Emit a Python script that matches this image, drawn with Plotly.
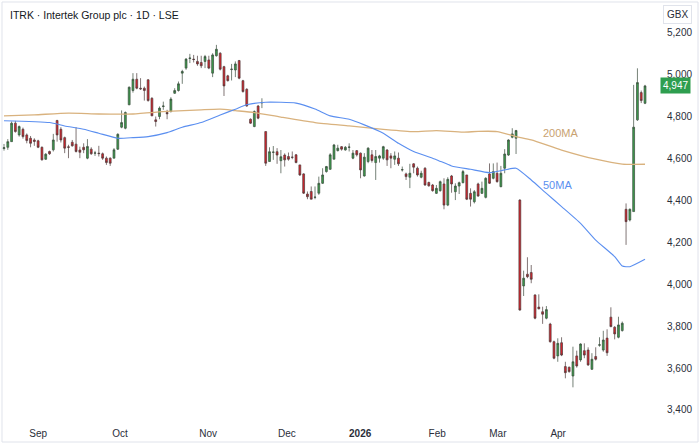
import plotly.graph_objects as go

# ---------------- data ----------------
opens = [4648,4654,4681,4769,4713,4740,4713,4697,4689,4685,4654,4597,4634,4642,4782,4740,4700,4656,4678,4669,
         4641,4654,4602,4645,4626,4626,4623,4602,4602,4602,4645,4750,4745,4857,4925,4979,4936,4936,4976,4888,
         4785,4801,4849,4820,4825,4912,4925,5008,5032,5078,5075,5064,5059,5064,5071,5008,5091,5103,5039,4995,
         5025,5023,5068,4972,4931,4788,4753,4851,4866,4729,4586,4630,4633,4590,4617,4610,4607,4618,4570,4527,
         4431,4443,4415,4435,4482,4538,4549,4597,4638,4657,4641,4654,4602,4638,4626,4517,4586,4618,4581,4602,
         4602,4641,4613,4597,4602,4546,4527,4511,4575,4554,4511,4554,4486,4474,4434,4447,4479,4378,4517,4442,
         4469,4485,4522,4434,4394,4479,4434,4415,4527,4506,4530,4466,4554,4617,4702,4697,4402,3992,4048,4056,
         3949,3891,3869,3838,3810,3726,3658,3721,3607,3604,3562,3658,3639,3683,3686,3594,3655,3709,3686,3743,
         3843,3795,3747,3779,4358,4307,4347,4785,4915,4864]
highs = [4670,4693,4777,4780,4758,4748,4720,4708,4697,4690,4658,4626,4638,4718,4785,4750,4705,4666,4689,4750,
         4657,4673,4693,4654,4637,4661,4629,4610,4606,4650,4721,4830,4825,4944,5008,5008,4984,4944,4979,4893,
         4801,4849,4872,4833,4893,4936,4968,5024,5080,5100,5095,5091,5091,5095,5091,5103,5143,5108,5043,5000,
         5052,5064,5071,4976,4936,4792,4830,4856,4888,4729,4654,4660,4650,4641,4625,4629,4634,4622,4570,4530,
         4443,4467,4467,4514,4554,4565,4626,4670,4666,4660,4660,4673,4641,4641,4629,4626,4654,4641,4641,4618,
         4661,4645,4626,4634,4629,4562,4533,4575,4578,4562,4542,4559,4490,4479,4474,4495,4506,4511,4522,4482,
         4490,4546,4522,4458,4450,4485,4490,4511,4577,4577,4581,4565,4645,4692,4745,4737,4406,4065,4129,4092,
         3952,3952,3893,3896,3816,3731,3742,3747,3630,3607,3702,3683,3718,3718,3699,3671,3699,3747,3778,3785,
         3890,3800,3845,3822,4386,4362,4952,5031,4925,4952]
lows = [4638,4642,4681,4724,4705,4695,4673,4654,4661,4650,4591,4594,4618,4634,4681,4677,4626,4602,4657,4629,
        4602,4626,4597,4618,4613,4610,4594,4570,4565,4602,4641,4745,4740,4855,4915,4931,4928,4877,4872,4804,
        4753,4788,4833,4788,4820,4909,4920,4957,5024,5056,5059,5043,5032,5032,5027,4989,5087,5021,4899,4968,
        4973,4989,4979,4915,4848,4766,4750,4788,4841,4565,4586,4594,4575,4530,4562,4590,4597,4578,4517,4431,
        4406,4406,4406,4427,4479,4533,4546,4597,4634,4638,4638,4634,4597,4610,4506,4514,4578,4581,4498,4581,
        4594,4565,4554,4570,4565,4538,4498,4459,4530,4514,4506,4470,4466,4442,4431,4442,4358,4373,4437,4402,
        4431,4482,4402,4371,4386,4418,4431,4410,4479,4501,4485,4463,4530,4613,4697,4622,3874,3944,4029,4005,
        3833,3880,3811,3833,3721,3642,3630,3657,3551,3578,3508,3602,3630,3647,3610,3591,3636,3702,3678,3658,
        3795,3737,3742,3774,4188,4300,4347,4780,4865,4860]
closes = [4652,4681,4769,4729,4753,4705,4686,4673,4682,4654,4594,4621,4623,4689,4713,4689,4650,4654,4661,4634,
          4630,4642,4658,4623,4627,4624,4602,4581,4578,4642,4716,4772,4820,4941,4979,4936,4933,4925,4877,4804,
          4777,4841,4851,4814,4884,4925,4957,5016,5075,5080,5073,5052,5043,5087,5032,5095,5122,5027,4947,4972,
          5027,5052,4984,4920,4851,4769,4825,4793,4868,4578,4633,4631,4617,4609,4594,4597,4606,4581,4522,4435,
          4418,4406,4416,4482,4522,4562,4618,4665,4650,4645,4654,4655,4626,4618,4546,4607,4650,4591,4610,4613,
          4657,4594,4602,4613,4575,4547,4514,4530,4559,4522,4530,4474,4470,4447,4458,4490,4378,4501,4479,4469,
          4485,4538,4406,4406,4442,4421,4458,4506,4482,4538,4490,4530,4622,4689,4718,4734,3877,4029,4036,4024,
          3838,3883,3857,3879,3726,3647,3718,3662,3578,3583,3630,3610,3715,3662,3615,3642,3642,3711,3734,3673,
          3798,3763,3806,3814,4299,4358,4750,4963,4877,4947]

# moving averages read at sampled candles
ma50_idx = [0,12,16,21,25,30,34,38,43,47,52,57,61,64,69,77,82,86,91,95,
            100,104,108,114,118,123,128,132,135,139,143,147,152,156,161,163,165,169]
ma50_val = [4781,4772,4756,4740,4721,4697,4700,4705,4724,4750,4772,4808,4836,4857,4869,4865,4837,4804,4788,4761,
            4721,4673,4634,4595,4565,4549,4533,4546,4554,4498,4434,4371,4291,4211,4132,4087,4084,4119]
ma200_idx = [0,8,17,25,34,43,52,57,61,66,73,82,91,100,108,114,121,125,130,135,139,147,156,163,169]
ma200_val = [4804,4809,4817,4813,4813,4825,4833,4836,4829,4820,4798,4772,4756,4740,4729,4734,4726,4730,4729,4705,
             4689,4641,4597,4574,4573]

month_labels = ["Sep", "Oct", "Nov", "Dec", "<b>2026</b>", "Feb", "Mar", "Apr"]
month_pos = [9, 30.6, 53.8, 74.6, 93.9, 114.2, 130.2, 146.1]
price_ticks = [3400, 3600, 3800, 4000, 4200, 4400, 4600, 4800, 5000, 5200]

title_text = "ITRK · Intertek Group plc · 1D · LSE"
currency = "GBX"

# ---------------- figure ----------------
n = len(closes)
xs = list(range(n))

GREEN = "#3c9c4c"
RED = "#d8232c"
BLUE = "#5b8ff0"
TAN = "#d9b27e"
FONT = "Liberation Sans"

fig = go.Figure()
fig.add_trace(go.Candlestick(
    x=xs, open=opens, high=highs, low=lows, close=closes,
    increasing=dict(fillcolor=GREEN, line=dict(color="#3a4a3c", width=0.7)),
    decreasing=dict(fillcolor=RED, line=dict(color="#4a3a3a", width=0.7)),
    whiskerwidth=0, hoverinfo="skip", showlegend=False,
))
fig.add_trace(go.Scatter(x=ma200_idx, y=ma200_val, mode="lines",
                         line=dict(color=TAN, width=1.3, shape="spline", smoothing=0.6),
                         hoverinfo="skip", showlegend=False))
fig.add_trace(go.Scatter(x=ma50_idx, y=ma50_val, mode="lines",
                         line=dict(color=BLUE, width=1.1, shape="spline", smoothing=0.5),
                         hoverinfo="skip", showlegend=False))

fig.update_layout(
    width=700, height=444,
    margin=dict(l=1, r=40, t=8, b=24),
    paper_bgcolor="white", plot_bgcolor="white",
    font=dict(family=FONT, size=10, color="#2a2e39"),
    xaxis=dict(range=[-0.79, 172.95], rangeslider=dict(visible=False),
               showgrid=False, zeroline=False, showline=False,
               tickmode="array", tickvals=month_pos, ticktext=month_labels,
               ticks="", ticklabelstandoff=6, tickfont=dict(size=10, color="#2a2e39")),
    yaxis=dict(side="right", range=[3352, 5319], showgrid=False, zeroline=False,
               showline=False, tickmode="array", tickvals=price_ticks,
               tickformat=",", ticks="", ticklabelstandoff=6,
               tickfont=dict(size=10, color="#2a2e39")),
    hovermode=False,
)

fig.add_shape(type="rect", xref="paper", yref="paper",
              x0=0.0015, x1=1.0577, y0=-0.0534, y1=1.0146,
              line=dict(color="#e0e3eb", width=1), fillcolor="rgba(0,0,0,0)", layer="below")

fig.add_annotation(xref="paper", yref="paper", x=0, y=1, xanchor="left", yanchor="top",
                   xshift=7, yshift=1, text=title_text, showarrow=False,
                   font=dict(family=FONT, size=10.5, color="#131722"))
fig.add_annotation(xref="paper", yref="paper", x=1, y=1, xanchor="left", yanchor="top",
                   xshift=3, yshift=3, text=currency, showarrow=False,
                   bordercolor="#e0e3eb", borderwidth=1, borderpad=3, bgcolor="white",
                   font=dict(family=FONT, size=10, color="#2a2e39"))
fig.add_annotation(xref="paper", yref="y", x=1, y=closes[-1], xanchor="left", yanchor="middle",
                   xshift=0, text=f"{closes[-1]:,}", showarrow=False,
                   bgcolor="#2e9e4f", borderpad=2,
                   font=dict(family=FONT, size=10, color="white"))
fig.add_annotation(xref="x", yref="y", x=141.6, y=4722, xanchor="left", yanchor="middle",
                   text="200MA", showarrow=False, font=dict(family=FONT, size=11, color="#c9a270"))
fig.add_annotation(xref="x", yref="y", x=141.6, y=4474, xanchor="left", yanchor="middle",
                   text="50MA", showarrow=False, font=dict(family=FONT, size=11, color=BLUE))

fig.write_html("out.html")
